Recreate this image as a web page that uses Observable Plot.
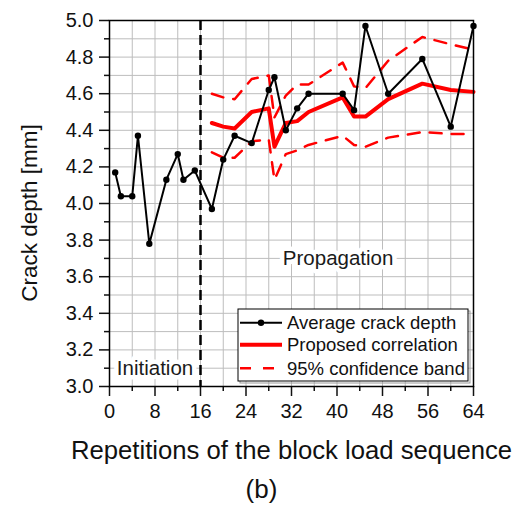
<!DOCTYPE html>
<html><head><meta charset="utf-8">
<script src="https://cdn.jsdelivr.net/npm/d3@7"></script>
<script src="https://cdn.jsdelivr.net/npm/@observablehq/plot@0.6"></script>
<style>
body{margin:0;background:#fff;}
#chart svg{display:block;}
</style></head><body><div id="chart"></div>
<script>
// ---- data ----
const repetitions = [1,2,4,5,7,10,12,13,15,18,20,22,25,28,29,31,33,35,41,43,45,49,55,60,64];
const avgDepth = [4.17,4.04,4.04,4.37,3.78,4.13,4.27,4.13,4.18,3.97,4.24,4.37,4.33,4.62,4.69,4.40,4.52,4.60,4.60,4.51,4.97,4.60,4.79,4.42,4.97];
const fitReps = [18,20,22,25,28,29,31,33,35,41,43,45,49,55,60,64];
const fitDepth = [4.44,4.42,4.41,4.50,4.52,4.31,4.44,4.45,4.50,4.58,4.475,4.475,4.57,4.655,4.62,4.61];
const upperBand = [4.60,4.58,4.57,4.68,4.70,4.47,4.59,4.65,4.65,4.77,4.64,4.63,4.78,4.91,4.87,4.84];
const lowerBand = [4.28,4.25,4.25,4.34,4.35,4.13,4.27,4.29,4.32,4.37,4.32,4.31,4.36,4.39,4.38,4.38];
const phaseBoundary = [16];
const phaseLabels = ["Initiation", "Propagation"];
const phaseLabelX = [8, 40.2];
const phaseLabelY = [3.1, 3.7];
const xTicks = [0,8,16,24,32,40,48,56,64];
const xMinorTicks = [4,12,20,28,36,44,52,60];
const xGrid = [4,8,12,16,20,24,28,32,36,40,44,48,52,56,60];
const yTicks = [3.0,3.2,3.4,3.6,3.8,4.0,4.2,4.4,4.6,4.8,5.0];
const yMinorTicks = [3.1,3.3,3.5,3.7,3.9,4.1,4.3,4.5,4.7,4.9];
const yGrid = [3.1,3.2,3.3,3.4,3.5,3.6,3.7,3.8,3.9,4.0,4.1,4.2,4.3,4.4,4.5,4.6,4.7,4.8,4.9];
const legendLabels = ["Average crack depth", "Proposed correlation", "95% confidence band"];
const xTitle = "Repetitions of the block load sequence";
const yTitle = "Crack depth [mm]";
const caption = "(b)";

// ---- tables ----
const avg = repetitions.map((x, i) => ({x, y: avgDepth[i]}));
const fit = fitReps.map((x, i) => ({x, y: fitDepth[i]}));
const up = fitReps.map((x, i) => ({x, y: upperBand[i]}));
const lo = fitReps.map((x, i) => ({x, y: lowerBand[i]}));
const phases = phaseLabels.map((t, i) => ({t, x: phaseLabelX[i], y: phaseLabelY[i]}));

const FONT = '"Liberation Sans", Arial, sans-serif';
const W = 526, H = 508, mt = 20, mb = 122, ml = 109, mr = 53;
const gridStyle = {stroke: "#bdbdbd", strokeOpacity: 1, strokeWidth: 1};

const chart = Plot.plot({
  width: W, height: H,
  marginTop: mt, marginBottom: mb, marginLeft: ml, marginRight: mr,
  style: {fontFamily: FONT, background: "white", color: "#111", overflow: "visible"},
  x: {domain: [0, 64]},
  y: {domain: [3, 5]},
  marks: [
    Plot.gridX(xGrid, gridStyle),
    Plot.gridY(yGrid, gridStyle),
    Plot.line(up, {x: "x", y: "y", stroke: "#ff0000", strokeWidth: 2.5, strokeDasharray: "12,10"}),
    Plot.line(lo, {x: "x", y: "y", stroke: "#ff0000", strokeWidth: 2.5, strokeDasharray: "12,10"}),
    Plot.line(fit, {x: "x", y: "y", stroke: "#ff0000", strokeWidth: 4}),
    Plot.line(avg, {x: "x", y: "y", stroke: "#000", strokeWidth: 2}),
    Plot.dot(avg, {x: "x", y: "y", r: 3.2, fill: "#000"}),
    Plot.ruleX(phaseBoundary, {stroke: "#000", strokeWidth: 2.5, strokeDasharray: "10,5"}),
    Plot.text(phases, {x: "x", y: "y", text: "t", fontSize: 20.5, fill: "#1a1a1a", stroke: "white", strokeWidth: 9}),
    Plot.axisX(xTicks, {tickSize: 10, tickPadding: 7, fontSize: 20, strokeWidth: 1.5, label: null, tickFormat: d => String(d)}),
    Plot.axisX(xMinorTicks, {tickSize: 5, strokeWidth: 1.5, text: null, label: null}),
    Plot.axisY(yTicks, {tickSize: 10, tickPadding: 6, fontSize: 20, strokeWidth: 1.5, label: null, tickFormat: d => d.toFixed(1)}),
    Plot.axisY(yMinorTicks, {tickSize: 5, strokeWidth: 1.5, text: null, label: null}),
    Plot.frame({stroke: "#000", strokeWidth: 1.5}),
    Plot.text([xTitle], {text: d => d, frameAnchor: "bottom", dy: 64, fontSize: 25.7, lineAnchor: "middle", fill: "#111"}),
    Plot.text([caption], {text: d => d, frameAnchor: "bottom", dx: -30, dy: 103.5, fontSize: 26, lineAnchor: "middle", fill: "#111"})
  ]
});

const svg = d3.select(chart);
const frameRight = W - mr, frameBottom = H - mb;

// ---- y axis title (rotated) ----
svg.append("text")
  .attr("transform", `translate(30,${(mt + frameBottom) / 2 + 10}) rotate(-90)`)
  .attr("text-anchor", "middle").attr("dy", "0.32em")
  .attr("font-family", FONT).attr("font-size", 22.5).attr("fill", "#111")
  .text(yTitle);

// ---- legend box drawn inside the plot frame ----
const lw = 230, lh = 72;
const bx = frameRight - 5 - lw, by = frameBottom - 5 - lh;
const lg = svg.append("g").attr("font-family", FONT).attr("text-anchor", "start");
lg.append("rect").attr("x", bx + 2).attr("y", by + 2).attr("width", lw).attr("height", lh)
  .attr("fill", "none").attr("stroke", "#9a9a9a").attr("stroke-width", 1);
lg.append("rect").attr("x", bx).attr("y", by).attr("width", lw).attr("height", lh)
  .attr("fill", "white").attr("stroke", "#000").attr("stroke-width", 1);
const rowY = [13.7, 35.8, 59.3];
const styles = [
  {stroke: "#000", width: 2, dash: null, dot: true},
  {stroke: "#ff0000", width: 4, dash: null, dot: false},
  {stroke: "#ff0000", width: 2.5, dash: "11,12", dot: false}
];
legendLabels.forEach((label, i) => {
  const y = by + rowY[i];
  const s = styles[i];
  const ln = lg.append("line").attr("x1", bx + 2).attr("x2", bx + 44).attr("y1", y).attr("y2", y)
    .attr("stroke", s.stroke).attr("stroke-width", s.width);
  if (s.dash) ln.attr("stroke-dasharray", s.dash);
  if (s.dot) lg.append("circle").attr("cx", bx + 23).attr("cy", y).attr("r", 3.2).attr("fill", "#000");
  lg.append("text").attr("x", bx + 49).attr("y", y).attr("dy", "0.35em")
    .attr("text-anchor", "start")
    .attr("font-size", 18.5).attr("fill", "#111").text(label);
});

document.getElementById("chart").appendChild(chart);
</script>
</body></html>
